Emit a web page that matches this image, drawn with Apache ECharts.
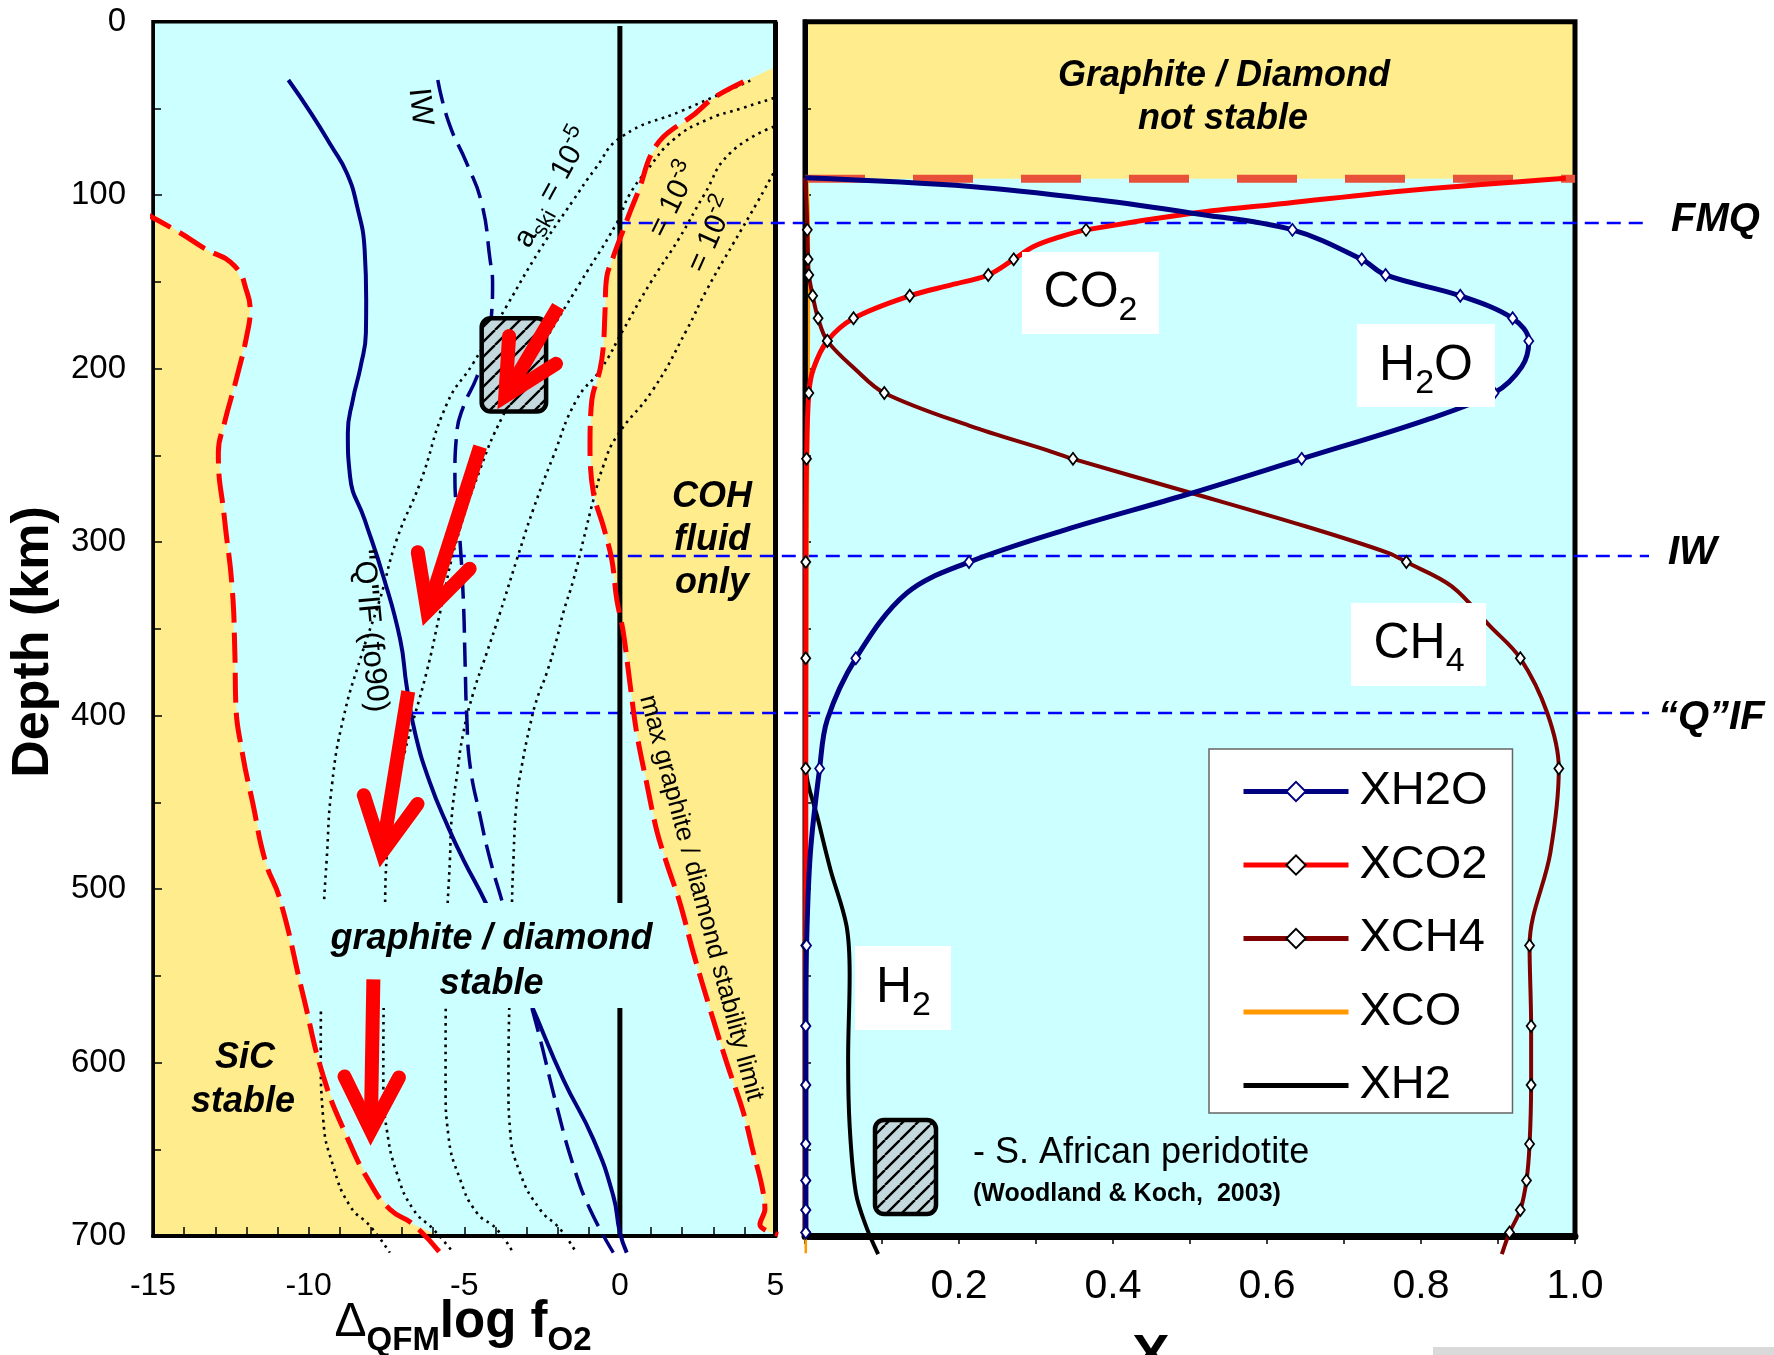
<!DOCTYPE html>
<html><head><meta charset="utf-8">
<script src="https://cdn.jsdelivr.net/npm/echarts@6/dist/echarts.min.js"></script>
<style>html,body{margin:0;padding:0;background:#fff;overflow:hidden}#c{width:1774px;height:1355px}</style>
</head><body><div id="c"></div>
<script>
// ================= DATA =================
// Left panel: [ΔQFM log fO2, depth km]
const sicBoundary = [[-15.28,110.4],[-14.2,121],[-13.36,130.5],[-12.37,141],[-11.97,156.5],[-11.88,166],[-11.97,179.5],[-12.30,204.5],[-12.70,231],[-12.90,248.7],[-12.70,287],[-12.46,325.5],[-12.37,364],[-12.34,392.7],[-12.13,421.5],[-11.80,450],[-11.39,484],[-10.92,506],[-10.17,561.7],[-9.53,607.8],[-8.78,642.4],[-8.03,669.3],[-7.39,684.6],[-6.64,693.3],[-5.78,709.6]];
const cohRegionTop = [5.0,25.9];
const graphiteLimit = [[3.97,34.6],[3.0,44],[2.36,53.8],[1.40,66.3],[0.97,77.8],[0.65,95],[0.33,109.5],[0.11,120],[-0.21,135.4],[-0.42,147],[-0.48,168],[-0.53,187],[-0.64,200.7],[-0.90,218],[-0.96,246.7],[-0.85,271.7],[-0.53,291],[-0.26,310],[-0.10,333],[0.11,352],[0.32,381],[0.54,410],[0.86,438.8],[1.18,466],[1.50,484.9],[1.93,508],[2.36,536.7],[2.90,569.4],[3.43,600],[3.97,628.9],[4.29,652],[4.56,671],[4.66,684.6],[4.50,693.3],[4.72,697],[5.09,699]];
const qifCurve = [[-10.65,33.6],[-9.92,52.8],[-9.26,72],[-8.77,87.4],[-8.44,106.6],[-8.20,131.5],[-8.15,160.3],[-8.16,179.5],[-8.33,198.8],[-8.58,218],[-8.74,237],[-8.67,262],[-8.20,287],[-7.60,319.8],[-7.06,356],[-6.85,383],[-6.58,410],[-6.10,438.8],[-5.50,465],[-5.03,483],[-4.28,509],[-2.83,567.5],[-1.82,609.7],[-0.85,644.3],[-0.21,677],[0.0,698],[0.22,709.6]];
const iwCurve = [[-5.85,33.6],[-5.49,58.5],[-4.92,81.6],[-4.44,104.6],[-4.17,137.3],[-4.09,150.7],[-4.12,168],[-4.28,187.2],[-4.60,205],[-5.03,222],[-5.24,237],[-5.30,262],[-5.14,298.6],[-5.03,333],[-4.97,371.6],[-4.92,400.4],[-4.81,429.2],[-4.49,458],[-4.17,483],[-3.74,509.9],[-2.67,579],[-2.03,625],[-1.49,659.7],[-0.96,684.6],[-0.21,709.6]];
const askiLine1 = [[4.19,34],[2.04,51],[0.06,66.3],[-0.8,85],[-1.5,103],[-2.57,131.5],[-3.64,164],[-4.71,196.8],[-5.55,220],[-6.42,266],[-7.17,298.6],[-7.71,333],[-8.3,365],[-8.89,402],[-9.25,440],[-9.42,483],[-9.53,520],[-9.61,594],[-9.53,632.8],[-9.21,659.7],[-8.67,682.7],[-8.03,694.2],[-7.39,709.6]];
const askiLine2 = [[4.95,44],[3.9,50],[2.79,56.6],[1.72,68],[0.9,85],[0.3,100],[-0.10,116],[-1.28,150.6],[-2.57,189],[-3.78,228],[-4.49,258],[-5.24,298.6],[-5.78,340.8],[-6.21,375],[-6.9,420],[-7.35,455],[-7.49,480],[-7.55,520],[-7.60,614],[-7.49,638.5],[-7.17,663.5],[-6.64,684.6],[-5.99,696.2],[-5.35,709.6]];
const askiLine3 = [[4.95,60.5],[3.54,75.8],[2.7,100],[1.9,125],[1.0,150],[0.11,177.6],[-0.6,200],[-1.39,218],[-2.14,250.6],[-2.78,281],[-3.31,310],[-3.85,340.8],[-4.28,364],[-4.71,387],[-5.03,410],[-5.24,435],[-5.40,458],[-5.46,483],[-5.55,520],[-5.60,614],[-5.51,642],[-5.14,667],[-4.60,686.5],[-3.96,696],[-3.42,710]];
const askiLine4 = [[4.93,87.4],[4.40,104.6],[3.65,127.7],[2.79,154.6],[2.15,177.6],[1.07,212],[-0.10,239],[-0.53,256],[-0.85,275.6],[-1.17,298.6],[-1.49,321.6],[-1.82,340.8],[-2.03,356],[-2.35,375.4],[-2.67,390.8],[-2.89,406],[-3.15,429],[-3.31,448],[-3.42,483],[-3.48,520],[-3.58,614],[-3.53,638.5],[-3.21,663.5],[-2.57,684.6],[-1.92,696],[-1.39,710]];
const zeroLine = [[0,2.5],[0,700]];
const refNames = ['FMQ','IW','\u201CQ\u201DIF'];
const refDepths = [116, 308, 398.5];
const refStartX = [-0.1, -5.4, -6.74];
const peridotite = [[-4.44,170.9,-2.37,224.7]];
const arrows = [[-1.98,164.2,-3.91,222.7],[-4.49,244.9,-6.32,347.6],[-6.80,386,-7.71,486.8],[-7.92,552,-8.01,647.2]];

// Right panel: [X, depth km]
const notStableDepth = 90.6;
const markerDepths = [120,137,146,158,171,184,214,252,311.5,367,430.5,532.5,579,613,647,668,685,698];
const xh2o = [[0.0,90],[0.215,95],[0.379,102.7],[0.503,110.4],[0.633,120],[0.723,137],[0.754,146],[0.851,158],[0.919,171],[0.940,184],[0.931,198.8],[0.895,214],[0.807,229.5],[0.645,252],[0.495,272.7],[0.338,292.9],[0.213,311.5],[0.132,329.4],[0.066,367],[0.029,402.3],[0.019,430.5],[0.007,479],[0.002,532.5],[0.001,579],[0.001,613],[0.001,647],[0.001,668],[0.001,685],[0.001,698]];
const xco2 = [[0.988,90.2],[0.791,97],[0.626,104.6],[0.503,110.4],[0.365,120],[0.330,124.2],[0.297,129.6],[0.271,137],[0.238,146],[0.19,151.7],[0.136,158],[0.063,171],[0.029,184],[0.011,200],[0.005,214],[0.002,252],[0.001,311.5],[0.001,367],[0.001,430.5],[0.001,532.5],[0.001,579],[0.001,613],[0.001,647],[0.001,668],[0.001,685],[0.001,698]];
const xch4 = [[0.0,90],[0.002,105],[0.003,120],[0.004,137],[0.005,146],[0.010,158],[0.017,171],[0.029,184],[0.066,200.6],[0.103,214],[0.214,233],[0.313,246.8],[0.348,252],[0.495,270.8],[0.651,291],[0.758,306.3],[0.781,311.5],[0.840,325.5],[0.890,348.6],[0.929,367],[0.964,398.5],[0.979,430.5],[0.968,479],[0.941,532.5],[0.943,579],[0.943,613],[0.941,647],[0.937,668],[0.929,685],[0.915,698],[0.905,710.5]];
const xco = [[0.003,92],[0.005,120],[0.005,180],[0.004,250],[0.003,350],[0.002,450],[0.001,600],[0.001,710]];
const xh2 = [[0.001,92],[0.001,200],[0.001,300],[0.001,429],[0.017,460],[0.033,488.7],[0.054,521.4],[0.058,550],[0.056,598],[0.058,636.6],[0.066,675],[0.079,694],[0.095,710.5]];
const legendNames = ['XH2O','XCO2','XCH4','XCO','XH2'];

// ================= STYLE =================
const FF = '"Liberation Sans", Arial, Helvetica, sans-serif';
const CYAN = '#CCFFFF', YEL = '#FFEC8C', NAVY = '#000080', RED = '#FF0000', DRED = '#800000', ORANGE = '#FF9900';
const L = {left:153, top:21.7, width:622.5, height:1214.3};
const R = {left:805, top:21.7, width:770, height:1214.3};

function hatchCanvas(){
  const s = 15, c = document.createElement('canvas'); c.width = c.height = s;
  const g = c.getContext('2d'); g.fillStyle = '#C4D9DD'; g.fillRect(0,0,s,s);
  g.strokeStyle = '#000'; g.lineWidth = 2.4; g.beginPath();
  for (const o of [-s,0,s]) { g.moveTo(o,s); g.lineTo(o+s,0); }
  g.stroke(); return c;
}
const HATCH = {image: hatchCanvas(), repeat: 'repeat'};

function clampL(p){ return [Math.max(-15,Math.min(5,p[0])), Math.max(0,Math.min(700,p[1]))]; }
function polySeries(xi, pts, color){
  return {type:'custom', xAxisIndex:xi, yAxisIndex:xi, z:1, silent:true, clip:true, data:[[0,0]],
    renderItem:(p, api)=>({type:'polygon', shape:{points: pts.map(q=>api.coord(q)), smooth:0}, style:{fill:color}})};
}
function lineL(data, color, width, type, z, sm){
  return {type:'line', xAxisIndex:0, yAxisIndex:0, data, symbol:'none', smooth: sm==null?0.5:sm, clip:false, silent:true,
    z: z||2, lineStyle:{color, width, type: type||'solid', cap:'butt'}};
}
function withMarkers(pts){ return pts.map(p => markerDepths.includes(p[1]) ? {value:p} : {value:p, symbol:'none'}); }
function lineR(name, data, color, width, markers, border){
  const s = {name, type:'line', xAxisIndex:1, yAxisIndex:1, smooth:0.35, clip:false, silent:true, z:3,
    lineStyle:{color, width}, data: markers ? withMarkers(data) : data};
  if (markers) Object.assign(s, {symbol:'diamond', symbolSize:[9,12], showSymbol:true,
    itemStyle:{color:'#fff', borderColor:border, borderWidth:1.8}});
  else Object.assign(s, {symbol:'none', itemStyle:{color}});
  return s;
}

const leftFill = [...sicBoundary, [-16,710], [-16,110.4]].map(clampL);
const rightFill = [cohRegionTop, ...graphiteLimit, [6,700], [6,cohRegionTop[1]]].map(clampL);
const topFill = [[0,0],[1,0],[1,notStableDepth],[0,notStableDepth]];

const axisFont = {fontFamily:FF, color:'#000'};
const option = {
  animation:false,
  grid:[Object.assign({show:true, backgroundColor:CYAN, borderWidth:0}, L),
        Object.assign({show:true, backgroundColor:CYAN, borderWidth:0}, R)],
  xAxis:[
    {type:'value', gridIndex:0, min:-15, max:5, interval:5, z:1.5,
     axisLine:{show:true, onZero:false, lineStyle:{color:'#000', width:4}},
     axisTick:{show:true, inside:true, length:9, lineStyle:{color:'#000', width:1.5}},
     minorTick:{show:true, splitNumber:5, length:9, lineStyle:{color:'#000', width:1.5}},
     splitLine:{show:false}, axisLabel:Object.assign({fontSize:32, margin:34}, axisFont)},
    {type:'value', gridIndex:1, min:0, max:1, interval:0.1, z:1.5,
     axisLine:{show:true, onZero:false, lineStyle:{color:'#000', width:7}},
     axisTick:{show:true, inside:false, length:8, lineStyle:{color:'#000', width:1.5}},
     splitLine:{show:false},
     axisLabel:Object.assign({fontSize:41, margin:30, formatter:v=>{const k=Math.round(v*10); return (k>0 && k%2===0)?(k/10).toFixed(1):'';}}, axisFont)}
  ],
  yAxis:[
    {type:'value', gridIndex:0, min:0, max:700, interval:100, inverse:true, z:1.5,
     axisLine:{show:true, onZero:false, lineStyle:{color:'#000', width:3}},
     axisTick:{show:true, inside:true, length:9, lineStyle:{color:'#000', width:1.5}},
     minorTick:{show:true, splitNumber:2, length:8, lineStyle:{color:'#000', width:1.5}},
     splitLine:{show:false}, axisLabel:Object.assign({fontSize:33, margin:27}, axisFont)},
    {type:'value', gridIndex:1, min:0, max:700, interval:50, inverse:true, z:1.5,
     axisLine:{show:true, onZero:false, lineStyle:{color:'#000', width:5}},
     axisTick:{show:true, inside:true, length:6, lineStyle:{color:'#000', width:1.5}},
     splitLine:{show:false}, axisLabel:{show:false}}
  ],
  legend:{data: legendNames.map(n => (n==='XCO'||n==='XH2') ? {name:n, itemStyle:{color:'rgba(0,0,0,0)', borderColor:'rgba(0,0,0,0)', borderWidth:0}} : {name:n}),
    orient:'vertical', left:1209, top:749, padding:[19,25,4,32], itemGap:26.5, itemWidth:105, itemHeight:24,
    backgroundColor:'#fff', borderColor:'#666', borderWidth:1.5, selectedMode:false,
    lineStyle:{width:5},
    textStyle:{fontSize:47, lineHeight:45, fontFamily:FF, color:'#000', padding:[0,0,0,6]}},
  series:[
    polySeries(0, leftFill, YEL),
    polySeries(0, rightFill, YEL),
    polySeries(1, topFill, YEL),
    lineL(askiLine1, '#000', 2.6, [2.6,4.6]),
    lineL(askiLine2, '#000', 2.6, [2.6,4.6]),
    lineL(askiLine3, '#000', 2.6, [2.6,4.6]),
    lineL(askiLine4, '#000', 2.6, [2.6,4.6]),
    lineL(zeroLine, '#000', 5, 'solid', 2, 0),
    lineL(qifCurve, NAVY, 4),
    lineL(iwCurve, NAVY, 3.5, [24,10]),
    lineL(sicBoundary, RED, 5, [30,10], 4),
    lineL(graphiteLimit, RED, 5, [30,10], 4, 0.35),
    {type:'custom', xAxisIndex:0, yAxisIndex:0, z:15, silent:true, data:peridotite, encode:{x:[0,2], y:[1,3]},
     renderItem:(p, api)=>{
       const a = api.coord([api.value(0), api.value(1)]), b = api.coord([api.value(2), api.value(3)]);
       return {type:'rect', shape:{x:Math.min(a[0],b[0]), y:Math.min(a[1],b[1]), width:Math.abs(b[0]-a[0]), height:Math.abs(b[1]-a[1]), r:9},
               style:{fill:HATCH, stroke:'#000', lineWidth:4.5}};
     }},
    {type:'custom', xAxisIndex:0, yAxisIndex:0, z:20, silent:true, data:arrows, encode:{x:[0,2], y:[1,3]},
     renderItem:(p, api)=>{
       const a = api.coord([api.value(0), api.value(1)]), b = api.coord([api.value(2), api.value(3)]);
       const dx=b[0]-a[0], dy=b[1]-a[1], len=Math.hypot(dx,dy), ux=dx/len, uy=dy/len;
       const v=[b[0]-ux*14, b[1]-uy*14], arm=60, t=27*Math.PI/180;
       const rot=(x,y,q)=>[x*Math.cos(q)-y*Math.sin(q), x*Math.sin(q)+y*Math.cos(q)];
       const r1=rot(-ux,-uy,t), r2=rot(-ux,-uy,-t);
       return {type:'group', children:[
         {type:'line', shape:{x1:a[0], y1:a[1], x2:v[0], y2:v[1]}, style:{stroke:RED, lineWidth:14, lineCap:'butt'}},
         {type:'polyline', shape:{points:[[v[0]+r1[0]*arm, v[1]+r1[1]*arm], v, [v[0]+r2[0]*arm, v[1]+r2[1]*arm]]},
          style:{stroke:RED, fill:'none', lineWidth:14, lineCap:'round', lineJoin:'miter'}}
       ]};
     }},
    {type:'line', xAxisIndex:1, yAxisIndex:1, data:[[0,notStableDepth],[1,notStableDepth]], symbol:'none', silent:true, z:2.5,
     lineStyle:{color:'#E8503A', width:8, type:[60,48]}},
    lineR('XCO', xco, ORANGE, 2.5, false),
    lineR('XH2', xh2, '#000', 4, false),
    lineR('XCH4', xch4, DRED, 4, true, '#000'),
    lineR('XCO2', xco2, RED, 5, true, '#000'),
    lineR('XH2O', xh2o, NAVY, 5, true, NAVY)
  ]
};

const chart = echarts.init(document.getElementById('c'), null, {renderer:'canvas'});
chart.setOption(option);

// ================= ANNOTATIONS =================
function T(x, y, text, font, o){
  o = o || {};
  const st = {x:0, y:0, text, font, fill:'#000', align:o.align||'center', verticalAlign:'middle', textAlign:o.align||'center', textVerticalAlign:'middle'};
  if (o.rich) st.rich = o.rich;
  return {type:'text', x, y, rotation:o.rot||0, z:12, silent:true, style:st};
}
const f = (s, w) => (w ? w + ' ' : '') + s + 'px ' + FF;
function subRich(fm, fs, diff, mw, sw){
  const Lh = 2*(diff + 0.15*fs + 0.35*fm);
  return {m:{font:f(fm, mw), lineHeight:Lh}, s:{font:f(fs, sw), lineHeight:fs, verticalAlign:'bottom'}};
}
function supSubRich(fm, fs){
  return {m:{font:f(fm), lineHeight:42}, s:{font:f(fs), lineHeight:fs, verticalAlign:'bottom'}, p:{font:f(fs), lineHeight:fs, verticalAlign:'top'}};
}
function box(x, y, w, h, fill){ return {type:'rect', z:10, silent:true, shape:{x, y, width:w, height:h}, style:{fill}}; }

const gl = [];
// panel borders
gl.push({type:'rect', z:1.6, silent:true, shape:{x:L.left, y:L.top, width:L.width, height:L.height}, style:{fill:'none', stroke:'#000', lineWidth:3.5}});
gl.push({type:'line', z:1.6, silent:true, shape:{x1:L.left+L.width, y1:L.top, x2:L.left+L.width, y2:L.top+L.height}, style:{stroke:'#000', lineWidth:5}});
gl.push({type:'rect', z:1.6, silent:true, shape:{x:R.left, y:R.top, width:R.width, height:R.height}, style:{fill:'none', stroke:'#000', lineWidth:5}});
// reference lines FMQ / IW / QIF
const labelX = [1671, 1668, 1658];
refDepths.forEach((d, i) => {
  const p = chart.convertToPixel({xAxisIndex:0, yAxisIndex:0}, [refStartX[i], d]);
  gl.push({type:'line', z:1.7, silent:true, shape:{x1:p[0], y1:p[1], x2:1649, y2:p[1]}, style:{stroke:'#0000FF', lineWidth:2.5, lineDash:[14,8]}});
  gl.push(T(labelX[i], p[1] + (i===2?5:-3), refNames[i], f(40,'italic bold'), {align:'left'}));
});
// axis titles
gl.push(T(34, 642, 'Depth (km)', f(52,'bold'), {rot:Math.PI/2}));
gl.push(T(463, 1323, '{d|\u0394}{s|QFM}{m|log f}{s|O2}', f(51,'bold'), {rich:Object.assign(subRich(51,33,12,'bold','bold'), {d:{font:f(48), lineHeight:69.3}})}));
gl.push(T(1151, 1358, 'X', f(56,'bold')));
gl.push({type:'rect', z:12, silent:true, shape:{x:1433, y:1347, width:341, height:8}, style:{fill:'#D9D9D9'}});
// left panel labels
['COH','fluid','only'].forEach((s,i)=>gl.push(T(712, 497+43*i, s, f(36,'italic bold'))));
gl.push(box(312, 903, 356, 105, CYAN));
gl.push(T(491.5, 938.7, 'graphite / diamond', f(36,'italic bold')));
gl.push(T(491.5, 984, 'stable', f(36,'italic bold')));
gl.push(T(245, 1058, 'SiC', f(36,'italic bold')));
gl.push(T(243, 1102, 'stable', f(36,'italic bold')));
gl.push(T(701, 898, 'max graphite / diamond stability limit', f(26), {rot:-1.31}));
gl.push(T(370, 631, '"Q"IF (fo90)', f(31), {rot:-1.48}));
gl.push(T(420, 107, 'IW', f(31), {rot:-1.47}));
gl.push(T(553, 188, '{m|a}{s|ski}{m| = 10}{p|-5}', f(30), {rot:1.07, rich:supSubRich(30,22)}));
gl.push(T(674, 200, '{m|= 10}{p|-3}', f(30), {rot:1.11, rich:supSubRich(30,22)}));
gl.push(T(712, 235, '{m|= 10}{p|-2}', f(30), {rot:1.15, rich:supSubRich(30,22)}));
// right panel labels
gl.push(T(1224, 76.5, 'Graphite / Diamond', f(36,'italic bold')));
gl.push(T(1223, 119, 'not stable', f(36,'italic bold')));
const sr = subRich(50, 34, 12);
gl.push(box(1022, 252, 137, 82, '#fff'));   gl.push(T(1090.5, 293, '{m|CO}{s|2}', f(50), {rich:sr}));
gl.push(box(1357, 324, 138, 83, '#fff'));   gl.push(T(1426, 366, '{m|H}{s|2}{m|O}', f(50), {rich:sr}));
gl.push(box(1351, 603, 135, 83, '#fff'));   gl.push(T(1419, 644, '{m|CH}{s|4}', f(50), {rich:sr}));
gl.push(box(855, 946, 96, 84, '#fff'));     gl.push(T(903.5, 988, '{m|H}{s|2}', f(50), {rich:sr}));
gl.push({type:'rect', z:10, silent:true, shape:{x:875, y:1120, width:61, height:94, r:9}, style:{fill:HATCH, stroke:'#000', lineWidth:4.5}});
gl.push(T(973, 1153, '- S. African peridotite', f(36), {align:'left'}));
gl.push(T(973, 1194, '(Woodland & Koch,  2003)', f(25,'bold'), {align:'left'}));

chart.setOption({graphic:{elements:gl}});
</script></body></html>
